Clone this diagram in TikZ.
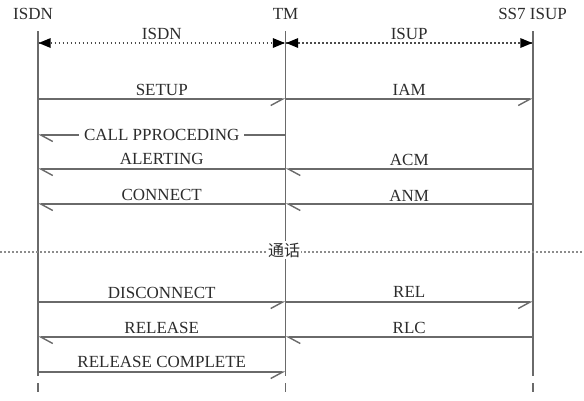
\documentclass[tikz,border=0pt]{standalone}
\usepackage{fontspec}
\setmainfont{Liberation Serif}
\newfontfamily\cjk{Noto Sans CJK SC}
\usetikzlibrary{arrows.meta}
\definecolor{ln}{HTML}{6A6A6A}
\definecolor{tx}{HTML}{2C2C2C}
\definecolor{dt}{HTML}{8C8C8C}
\definecolor{hd}{HTML}{4A4A4A}
\begin{document}
\begin{tikzpicture}[x=1pt,y=-1pt,
  font=\fontsize{17}{20}\selectfont,
  life/.style={draw=ln, line width=1.4pt},
  msg/.style={draw=ln, line width=1.4pt},
  toR/.style={msg, -{Straight Barb[harpoon,swap,length=12pt,width=13pt]}},
  toL/.style={msg, -{Straight Barb[harpoon,length=12pt,width=13pt]}},
  lbl/.style={text=tx, anchor=base, inner sep=0pt},
  hdline/.style={draw=hd, line width=1.7pt, dash pattern=on 1.7pt off 2.3pt},
  hdtip/.style={draw=none, fill=black},
  sep/.style={draw=dt, line width=1.8pt, dash pattern=on 1.8pt off 2.2pt}
]
\useasboundingbox (0,0) rectangle (584,400);

% header labels
\node[lbl] (hISDN) at (33,19) {ISDN};
\node[lbl] (hTM) at (285.5,19) {TM};
\node[lbl] (hSS7) at (532.5,19) {SS7 ISUP};

% lifelines
\coordinate (t1) at (38,31);
\coordinate (t2) at (285.5,31);
\coordinate (t3) at (533,31);
\coordinate (yBrkA) at (0,376);
\coordinate (yBrkB) at (0,383);
\coordinate (yEnd) at (0,392);
\foreach \t in {t1,t2,t3}{
  \draw[life] (\t) -- (\t |- yBrkA);
  \draw[life] (\t |- yBrkB) -- (\t |- yEnd);
}

% interface span arrows
\coordinate (yHd) at (0,43);
\coordinate (a1) at (38.7,43);
\coordinate (a2) at (284.8,43);
\coordinate (a3) at (286.2,43);
\coordinate (a4) at (532.3,43);
\draw[hdline] (a1) -- (a2) node[lbl, midway, yshift=4pt] (lISDN) {ISDN};
\draw[hdline] (a3) -- (a4) node[lbl, midway, yshift=4pt] (lISUP) {ISUP};
\fill[hdtip] (a1) -- ++(12,-5) -- ++(0,10) -- cycle;
\fill[hdtip] (a2) -- ++(-12,-5) -- ++(0,10) -- cycle;
\fill[hdtip] (a3) -- ++(12,-5) -- ++(0,10) -- cycle;
\fill[hdtip] (a4) -- ++(-12,-5) -- ++(0,10) -- cycle;

% messages
\coordinate (ySetup) at (0,99);
\draw[toR] (t1 |- ySetup) -- (t2 |- ySetup) node[lbl, midway, yshift=3.5pt] (mSetup) {SETUP};
\draw[toR] (t2 |- ySetup) -- (t3 |- ySetup) node[lbl, midway, yshift=3.5pt] (mIAM) {IAM};

\coordinate (yCall) at (0,135);
\draw[toL] (t2 |- yCall) -- (t1 |- yCall) node[lbl, midway, yshift=-5.6pt, fill=white, inner xsep=5pt, inner ysep=1pt] (mCall) {CALL PPROCEDING};

\coordinate (yAlert) at (0,169);
\draw[toL] (t2 |- yAlert) -- (t1 |- yAlert) node[lbl, midway, yshift=4.5pt] (mAlert) {ALERTING};
\draw[toL] (t3 |- yAlert) -- (t2 |- yAlert) node[lbl, midway, yshift=3.5pt] (mACM) {ACM};

\coordinate (yConn) at (0,204);
\draw[toL] (t2 |- yConn) -- (t1 |- yConn) node[lbl, midway, yshift=4pt] (mConn) {CONNECT};
\draw[toL] (t3 |- yConn) -- (t2 |- yConn) node[lbl, midway, yshift=3pt] (mANM) {ANM};

% conversation separator
\coordinate (sL) at (0,252);
\coordinate (sR) at (584,252);
\draw[sep] (sL) -- (sR);
\node[fill=white, text=tx, inner xsep=1pt, inner ysep=2pt, font=\cjk\fontsize{16}{18}\selectfont] (talk) at (284,250) {通话};

\coordinate (yDisc) at (0,302);
\draw[toR] (t1 |- yDisc) -- (t2 |- yDisc) node[lbl, midway, yshift=4pt] (mDisc) {DISCONNECT};
\draw[toR] (t2 |- yDisc) -- (t3 |- yDisc) node[lbl, midway, yshift=5pt] (mREL) {REL};

\coordinate (yRel) at (0,337);
\draw[toL] (t2 |- yRel) -- (t1 |- yRel) node[lbl, midway, yshift=4pt] (mRel) {RELEASE};
\draw[toL] (t3 |- yRel) -- (t2 |- yRel) node[lbl, midway, yshift=4pt] (mRLC) {RLC};

\coordinate (yRelC) at (0,372);
\draw[toR] (t1 |- yRelC) -- (t2 |- yRelC) node[lbl, midway, yshift=4.5pt] (mRelC) {RELEASE COMPLETE};
\end{tikzpicture}
\end{document}
